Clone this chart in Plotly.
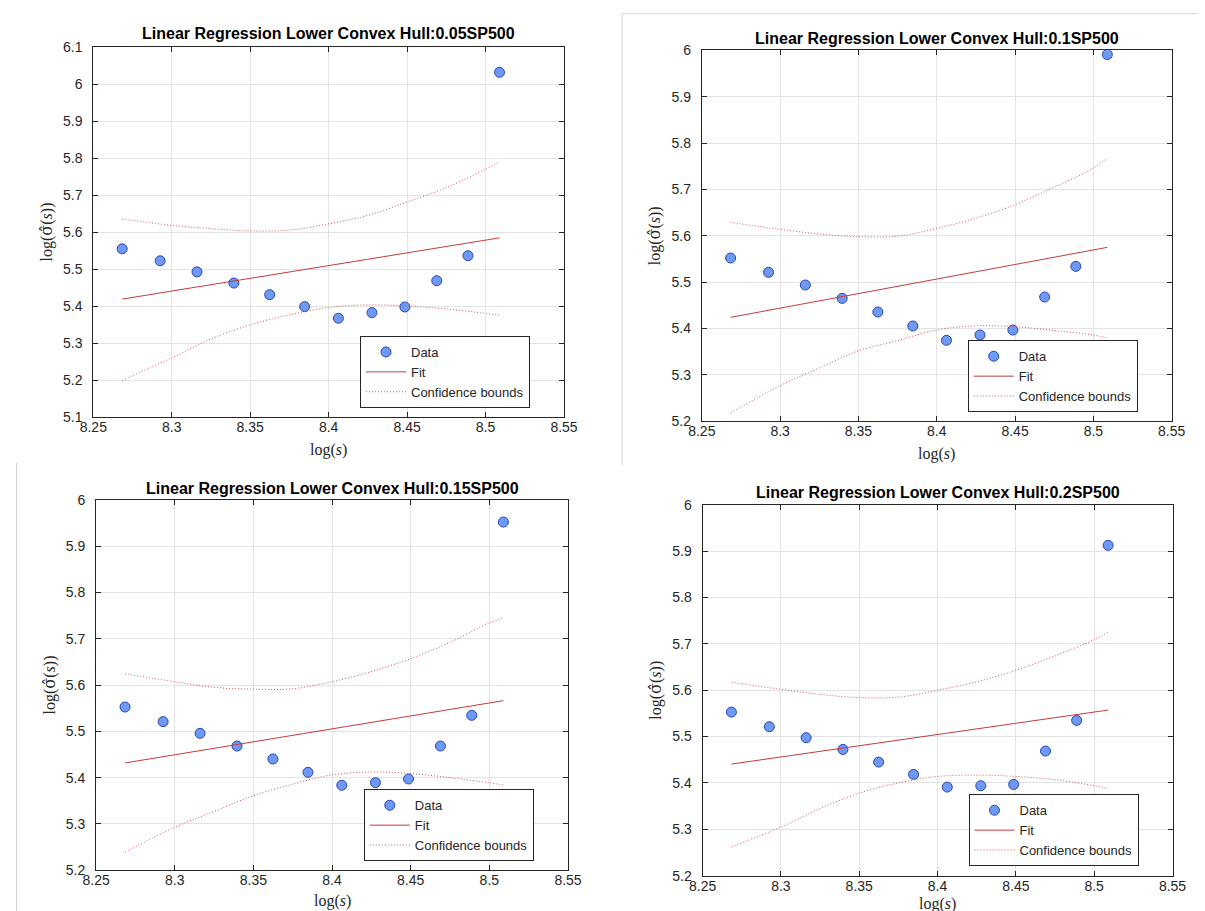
import plotly.graph_objects as go

# 画布尺寸 (像素)
W, H = 1205, 911

titles = ["Linear Regression Lower Convex Hull:0.05SP500",
          "Linear Regression Lower Convex Hull:0.1SP500",
          "Linear Regression Lower Convex Hull:0.15SP500",
          "Linear Regression Lower Convex Hull:0.2SP500"]

# 数据点 log(s)
log_s = [8.2684, 8.2926, 8.3161, 8.3396, 8.3624, 8.3847, 8.4062, 8.4276, 8.4486, 8.4689, 8.4888, 8.5089]

# log(sigma_hat(s)) 四个阈值
sigma_005 = [5.5545, 5.5222, 5.4922, 5.4620, 5.4306, 5.3983, 5.3668, 5.3821, 5.3974, 5.4684, 5.5358, 6.0316]
sigma_010 = [5.5521, 5.5212, 5.4939, 5.4651, 5.4357, 5.4055, 5.3746, 5.3861, 5.3968, 5.4680, 5.5341, 5.9907]
sigma_015 = [5.5525, 5.5209, 5.4957, 5.4683, 5.4403, 5.4115, 5.3835, 5.3892, 5.3971, 5.4683, 5.5345, 5.9518]
sigma_020 = [5.5528, 5.5212, 5.4975, 5.4723, 5.4450, 5.4184, 5.3911, 5.3940, 5.3968, 5.4687, 5.5349, 5.9123]

# 拟合直线 (两端点)
fit_x = [8.2684, 8.5089]
fit_005 = [5.4186, 5.5842]
fit_010 = [5.4242, 5.5751]
fit_015 = [5.4317, 5.5662]
fit_020 = [5.4407, 5.5572]

# 置信区间
bound_x = [8.2684, 8.300, 8.325, 8.350, 8.375, 8.400, 8.425, 8.450, 8.475, 8.500, 8.5089]
upper_005 = [5.635, 5.618, 5.609, 5.603, 5.605, 5.622, 5.645, 5.681, 5.720, 5.770, 5.789]
lower_005 = [5.199, 5.260, 5.311, 5.349, 5.376, 5.396, 5.403, 5.400, 5.392, 5.380, 5.375]
upper_010 = [5.629, 5.614, 5.604, 5.598, 5.599, 5.616, 5.638, 5.667, 5.705, 5.746, 5.768]
lower_010 = [5.218, 5.277, 5.315, 5.352, 5.374, 5.397, 5.406, 5.404, 5.396, 5.386, 5.380]
upper_015 = [5.624, 5.607, 5.595, 5.591, 5.592, 5.607, 5.629, 5.657, 5.692, 5.734, 5.745]
lower_015 = [5.239, 5.293, 5.327, 5.361, 5.386, 5.406, 5.412, 5.409, 5.400, 5.389, 5.384]
upper_020 = [5.617, 5.602, 5.591, 5.584, 5.585, 5.600, 5.618, 5.643, 5.674, 5.709, 5.725]
lower_020 = [5.262, 5.305, 5.345, 5.378, 5.400, 5.414, 5.417, 5.414, 5.407, 5.394, 5.388]

# 刻度
x_ticks = [8.25, 8.3, 8.35, 8.4, 8.45, 8.5, 8.55]
x_ticktext = ["8.25", "8.3", "8.35", "8.4", "8.45", "8.5", "8.55"]
y_ticks_a = [5.1, 5.2, 5.3, 5.4, 5.5, 5.6, 5.7, 5.8, 5.9, 6.0, 6.1]
y_ticktext_a = ["5.1", "5.2", "5.3", "5.4", "5.5", "5.6", "5.7", "5.8", "5.9", "6", "6.1"]
y_ticks_b = [5.2, 5.3, 5.4, 5.5, 5.6, 5.7, 5.8, 5.9, 6.0]
y_ticktext_b = ["5.2", "5.3", "5.4", "5.5", "5.6", "5.7", "5.8", "5.9", "6"]

sigmas = [sigma_005, sigma_010, sigma_015, sigma_020]
fits = [fit_005, fit_010, fit_015, fit_020]
uppers = [upper_005, upper_010, upper_015, upper_020]
lowers = [lower_005, lower_010, lower_015, lower_020]
y_ranges = [[5.1, 6.1], [5.2, 6.0], [5.2, 6.0], [5.2, 6.0]]
y_tickinfo = [(y_ticks_a, y_ticktext_a), (y_ticks_b, y_ticktext_b),
              (y_ticks_b, y_ticktext_b), (y_ticks_b, y_ticktext_b)]

# 每个子图的像素位置: 绘图区 (左, 上, 右, 下), 标题y, x轴标签y, 图例右下角
boxes = [(85.3, 39.0, 556.0, 409.0),
         (693.8, 42.3, 1163.7, 413.3),
         (88.1, 491.7, 560.0, 862.3),
         (694.6, 496.7, 1164.5, 867.7)]
title_y = [26, 30.7, 480, 485]
xlabel_y = [442, 446, 893, 896]
legend_corner = [(522, 400), (1129.7, 404.3), (525.8, 853.3), (1130.5, 858.3)]


def px(x):
    return x / W


def py(y):
    return 1 - y / H


fig = go.Figure()

axis_style = dict(showline=True, linecolor='#262626', linewidth=1, mirror='ticks',
                  ticks='inside', ticklen=5, tickcolor='#262626',
                  showgrid=True, gridcolor='#e3e3e3', gridwidth=1, zeroline=False,
                  tickfont=dict(family='Liberation Sans, Arial', size=14, color='#262626'),
                  automargin=False, fixedrange=True)
label_font = dict(family='Liberation Serif, DejaVu Serif', size=16, color='#262626')
dot = '1px,2px'
ylabel = 'log(<span style="font-family:DejaVu Serif">σ̂</span>(<i>s</i>))'

annotations = []
for i in range(4):
    n = '' if i == 0 else str(i + 1)
    leg = 'legend' + n
    xa, ya = 'x' + n, 'y' + n

    fig.add_trace(go.Scatter(x=log_s, y=sigmas[i], mode='markers', name='Data',
                             marker=dict(size=10, color='#6e9af5', line=dict(color='#2a44b8', width=1)),
                             xaxis=xa, yaxis=ya, legend=leg))
    fig.add_trace(go.Scatter(x=fit_x, y=fits[i], mode='lines', name='Fit',
                             line=dict(color='#c83a3a', width=1),
                             xaxis=xa, yaxis=ya, legend=leg))
    fig.add_trace(go.Scatter(x=bound_x, y=uppers[i], mode='lines', name='Confidence bounds',
                             line=dict(color='#d65454', width=1, dash=dot, shape='spline'),
                             legendgroup='cb' + n, xaxis=xa, yaxis=ya, legend=leg))
    fig.add_trace(go.Scatter(x=bound_x, y=lowers[i], mode='lines', name='Confidence bounds',
                             line=dict(color='#d65454', width=1, dash=dot, shape='spline'),
                             legendgroup='cb' + n, showlegend=False, xaxis=xa, yaxis=ya, legend=leg))

    l, t, r, b = boxes[i]
    fig.layout['xaxis' + n] = dict(axis_style, domain=[px(l), px(r)], anchor=ya,
                                   range=[8.25, 8.55], tickvals=x_ticks, ticktext=x_ticktext,
                                   ticklabelstandoff=-3)
    yt, ytt = y_tickinfo[i]
    fig.layout['yaxis' + n] = dict(axis_style, domain=[py(b), py(t)], anchor=xa,
                                   range=y_ranges[i], tickvals=yt, ticktext=ytt,
                                   ticklabelstandoff=7,
                                   title=dict(text=ylabel, font=label_font, standoff=6))
    lx, ly = legend_corner[i]
    fig.layout[leg] = dict(x=px(lx), y=py(ly), xanchor='right', yanchor='bottom',
                           bgcolor='white', bordercolor='#262626', borderwidth=1,
                           font=dict(family='Liberation Sans, Arial', size=13, color='#262626'),
                           itemwidth=40, tracegroupgap=0, traceorder='normal')
    annotations.append(dict(text='<b>' + titles[i] + '</b>', xref='paper', yref='paper',
                            x=px((l + r) / 2), y=py(title_y[i]), xanchor='center', yanchor='middle',
                            showarrow=False,
                            font=dict(family='Liberation Sans, Arial', size=16, color='black')))
    # x轴标签
    annotations.append(dict(text='log(<i>s</i>)', xref='paper', yref='paper',
                            x=px((l + r) / 2), y=py(xlabel_y[i]), xanchor='center', yanchor='middle',
                            showarrow=False, font=label_font))

# 截图拼接留下的浅灰色边框
shapes = [
    dict(type='line', xref='paper', yref='paper', x0=px(614), y0=py(5.7), x1=1, y1=py(5.7),
         line=dict(color='#d4d4d4', width=1)),
    dict(type='line', xref='paper', yref='paper', x0=px(614), y0=py(5.7), x1=px(614), y1=py(457),
         line=dict(color='#d4d4d4', width=1)),
    dict(type='line', xref='paper', yref='paper', x0=px(8.5), y0=py(455), x1=px(8.5), y1=0,
         line=dict(color='#d4d4d4', width=1)),
]

fig.update_layout(width=W, height=H, template='none',
                  margin=dict(l=0, r=0, t=0, b=0, autoexpand=False),
                  paper_bgcolor='white', plot_bgcolor='white',
                  showlegend=True, annotations=annotations, shapes=shapes)

fig.write_html("out.html")
